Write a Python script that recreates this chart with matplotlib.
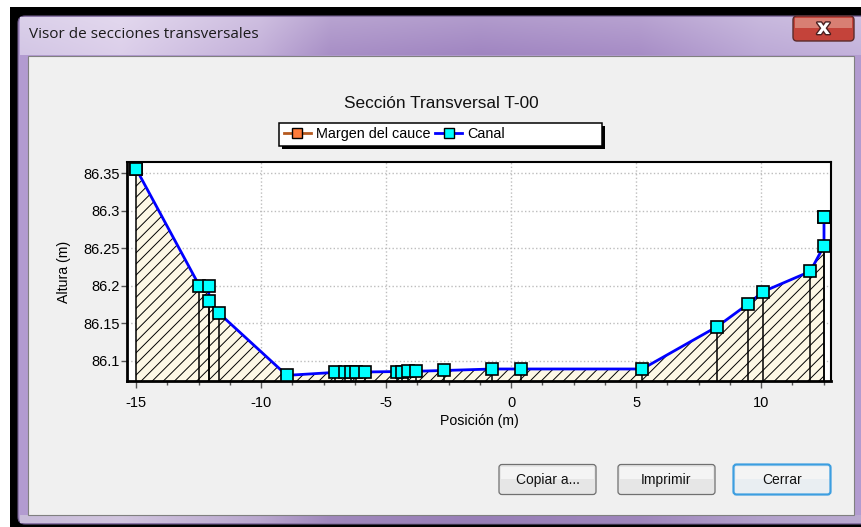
import numpy as np
import matplotlib.pyplot as plt
from matplotlib.patches import Rectangle, FancyBboxPatch
from matplotlib.ticker import MultipleLocator, FuncFormatter
from matplotlib.lines import Line2D
import matplotlib.patheffects as pe

plt.rcParams['font.family'] = ['Liberation Sans', 'DejaVu Sans']
plt.rcParams['hatch.linewidth'] = 0.7
plt.rcParams['axes.unicode_minus'] = False

# [Datos de la sección transversal]
posicion = [-15.0, -12.47, -12.09, -12.09, -11.67, -8.97,
            -7.03, -6.64, -6.41, -6.2, -5.86,
            -4.57, -4.36, -4.14, -3.81, -2.68,
            -0.75, 0.39, 5.24, 8.24, 9.49, 10.07, 11.96, 12.51, 12.51]
altura = [86.356, 86.2, 86.2, 86.18, 86.163, 86.0805,
          86.0845, 86.0845, 86.085, 86.085, 86.085,
          86.0856, 86.0856, 86.086, 86.086, 86.087,
          86.089, 86.089, 86.089, 86.1455, 86.176, 86.192, 86.219, 86.253, 86.291]

# Margen del cauce (coincide con los extremos)
margen_pos = [-15.0, 12.51]
margen_alt = [86.356, 86.291]

titulo_ventana = 'Visor de secciones transversales'
titulo = 'Sección Transversal T-00'
etiquetas = ['Margen del cauce', 'Canal']
botones = ['Copiar a...', 'Imprimir', 'Cerrar']

W, H = 861, 527
fig = plt.figure(figsize=(W / 100, H / 100), dpi=100, facecolor='white')

# [Ventana de Windows]
bg = fig.add_axes([0, 0, 1, 1])
bg.set_xlim(0, W)
bg.set_ylim(H, 0)
bg.axis('off')

bg.add_patch(Rectangle((10, 7), 870, 540, fc='black', zorder=0))
bg.add_patch(FancyBboxPatch((18, 16), 860, 508, boxstyle='round,pad=0,rounding_size=7',
                            fc='#b29bd0', ec='#6c5a88', lw=0.8, zorder=1))

# degradado de la barra de título
stops_x = [20, 120, 260, 330, 480, 640, 760, 861]
stops_c = ['#d3c6e5', '#dccfea', '#c3b0d9', '#a88fc6', '#a085c1', '#a78dc6', '#bca9d6', '#c4b3dc']
xs = np.linspace(20, 861, 400)
rgb = np.array([[int(c[i:i + 2], 16) / 255 for i in (1, 3, 5)] for c in stops_c])
row = np.stack([np.interp(xs, stops_x, rgb[:, k]) for k in range(3)], axis=-1)
fade = np.linspace(0.18, 0.0, 30)[:, None, None]
grad = row[None, :, :] * (1 - fade) + fade
bg.imshow(grad, extent=(20, 861, 55, 17), aspect='auto', zorder=2, interpolation='bilinear')

bot = row[None] * 0.95
bg.imshow(bot, extent=(20, 861, 523, 515), aspect='auto', zorder=2)
bg.set_xlim(0, W)
bg.set_ylim(H, 0)

bg.text(29, 35, titulo_ventana, fontsize=11, color='#1b1b1b', va='center', ha='left',
        family=['Open Sans', 'DejaVu Sans'], zorder=3)

# botón cerrar
bg.add_patch(FancyBboxPatch((793, 16), 61, 25, boxstyle='round,pad=0,rounding_size=4',
                            fc='#c4433a', ec='#5b2b2b', lw=1, zorder=3))
bg.add_patch(Rectangle((795, 17.5), 57, 10, fc='#dc8a7e', ec='none', alpha=0.85, zorder=3))
bg.text(823.5, 28, 'x', fontsize=15, fontweight='bold', color='white', ha='center', va='center',
        family='DejaVu Sans', zorder=4,
        path_effects=[pe.withStroke(linewidth=2, foreground='#4a2020')])

# panel interior
bg.add_patch(Rectangle((27.5, 55.5), 826.5, 459.5, fc='#f0f0f0', ec='#808080', lw=0.8, zorder=3))

# cuadro de la leyenda
bg.add_patch(Rectangle((282, 126), 323, 23, fc='black', ec='none', zorder=4))
bg.add_patch(Rectangle((279, 123), 323, 23, fc='white', ec='black', lw=1.1, zorder=5))

# botones
bx = [499, 618, 733.5]
for x0, txt in zip(bx, botones):
    activo = txt == 'Cerrar'
    bg.add_patch(FancyBboxPatch((x0, 464.5), 97, 30, boxstyle='round,pad=0,rounding_size=3',
                                fc='#e9eef2' if activo else '#e6e6e6',
                                ec='#3c9ee0' if activo else '#707070',
                                lw=1.6 if activo else 0.9, zorder=4))
    bg.add_patch(Rectangle((x0 + 2, 466.5), 93, 12, fc='#f4f4f4', ec='none', zorder=4))
    bg.text(x0 + 48.5, 480, txt, fontsize=10, ha='center', va='center', color='#111111', zorder=5)

fig.text(441 / W, 1 - 103 / H, titulo, fontsize=12.4, ha='center', va='center', color='#111111')

# [Gráfico]
ax = fig.add_axes([127 / W, 1 - 381 / H, 704 / W, 219 / H])
ax.set_facecolor('white')
base = 86.073
ax.set_xlim(-15.36, 12.79)
ax.set_ylim(base, 86.3647)

ax.fill_between(posicion[:-1], altura[:-1], base, facecolor='#fdf8e6', edgecolor='black',
                hatch='///', linewidth=0, zorder=1)
ax.vlines(posicion, base, altura, colors='black', lw=1.1, zorder=2)
ax.plot(margen_pos, margen_alt, ls='none', marker='s', ms=9, mfc='#ff7b3a', mec='black',
        mew=1.2, zorder=3, clip_on=False)
ax.plot(posicion, altura, color='#0000ff', lw=2, marker='s', ms=9, mfc='#00ffff', mec='black',
        mew=1.2, zorder=4, clip_on=False)

ax.xaxis.set_major_locator(MultipleLocator(5))
ax.xaxis.set_minor_locator(MultipleLocator(1.25))
ax.yaxis.set_major_locator(MultipleLocator(0.05))
ax.yaxis.set_major_formatter(FuncFormatter(lambda v, p: f'{v:g}'))
ax.tick_params(axis='x', which='major', length=5, width=1, color='#555555', pad=6, labelsize=10.5)
ax.tick_params(axis='x', which='minor', length=3, width=1, color='#555555')
ax.tick_params(axis='y', length=4, width=1, color='#555555', pad=1, labelsize=10.5)
ax.grid(True, which='major', color='#bdbdbd', ls=':', lw=1)
ax.set_axisbelow(True)
for s in ax.spines.values():
    s.set_linewidth(1.5)
    s.set_color('black')
ax.spines['left'].set_linewidth(2)
ax.spines['bottom'].set_linewidth(2)

ax.set_xlabel('Posición (m)', fontsize=10.2, labelpad=3)
ax.set_ylabel('Altura (m)', fontsize=10.2, labelpad=9)

h_margen = Line2D([], [], color='#b5591f', lw=2, marker='s', ms=7, mfc='#ff7b3a', mec='black', mew=1)
h_canal = Line2D([], [], color='#0000ff', lw=2, marker='s', ms=7, mfc='#00ffff', mec='black', mew=1)
ax.legend([h_margen, h_canal], etiquetas, ncol=2, loc='center left',
          bbox_to_anchor=(284 / W, 1 - 134.5 / H), bbox_transform=fig.transFigure,
          frameon=False, fontsize=10.4, handlelength=1.85, handletextpad=0.35,
          columnspacing=0.35, borderpad=0, borderaxespad=0)

fig.savefig('out.png', dpi=100)
